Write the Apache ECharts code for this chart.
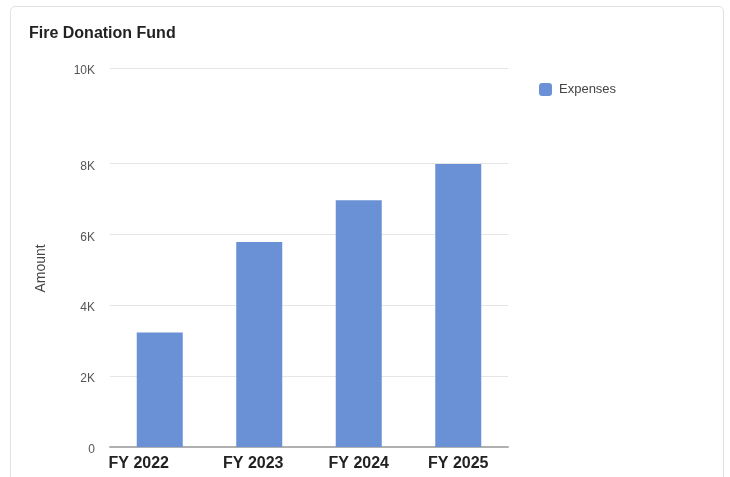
<!DOCTYPE html>
<html>
<head>
<meta charset="utf-8">
<title>Fire Donation Fund</title>
<script src="https://cdn.jsdelivr.net/npm/echarts@6/dist/echarts.min.js"></script>
<style>
  html, body { margin: 0; padding: 0; background: #ffffff; overflow: hidden; }
  #card {
    position: absolute; left: 10px; top: 6px; width: 714px; height: 520px;
    border: 1px solid #e2e2e2; border-radius: 5px; box-sizing: border-box;
  }
  #chart { position: absolute; left: 0; top: 0; width: 730px; height: 477px; }
</style>
</head>
<body>
<div id="card"></div>
<div id="chart"></div>
<script>
// Fiscal years and yearly expenses of the fund
const categories = ['FY 2022', 'FY 2023', 'FY 2024', 'FY 2025'];
const expenses = [3230, 5780, 6960, 7980];
const seriesName = 'Expenses';

// Value-axis ticks and the text printed beside each one
const yTickValues = [0, 2000, 4000, 6000, 8000, 10690];
const yTickLabels = ['0', '2K', '4K', '6K', '8K', '10K'];

const FONT = 'Arial, "Liberation Sans", Helvetica, sans-serif';
const BAR_COLOR = '#6a91d6';

// small horizontal nudges (px, to the left) for individual category labels
const labelNudge = [21, 6, 0, 0];

const chart = echarts.init(document.getElementById('chart'), null, { renderer: 'canvas' });

chart.setOption({
  animation: false,
  textStyle: { fontFamily: FONT },
  title: {
    text: 'Fire Donation Fund',
    left: 24,
    top: 21,
    textStyle: { fontFamily: FONT, fontSize: 16, fontWeight: 'bold', color: '#222222' }
  },
  legend: {
    left: 534,
    top: 78,
    itemWidth: 13,
    itemHeight: 13,
    icon: 'roundRect',
    itemStyle: { borderRadius: 2 },
    textStyle: { fontFamily: FONT, fontSize: 13, color: '#444444', padding: [0, 0, 0, 2] },
    data: [seriesName]
  },
  grid: {
    left: 110,
    top: 68,
    width: 398,
    height: 379
  },
  xAxis: {
    type: 'category',
    data: categories.map((c, i) => ({
      value: c,
      textStyle: { padding: [0, labelNudge[i] * 2, 0, 0] }
    })),
    axisLine: { show: true, lineStyle: { color: '#b0b0b0', width: 2 } },
    axisTick: { show: false },
    axisLabel: {
      interval: 0,
      margin: 9,
      fontFamily: FONT,
      fontSize: 16,
      fontWeight: 'bold',
      color: '#222222'
    },
    splitLine: { show: false }
  },
  yAxis: {
    type: 'value',
    min: 0,
    max: yTickValues[yTickValues.length - 1],
    name: 'Amount',
    nameLocation: 'middle',
    nameGap: 62,
    nameTextStyle: { fontFamily: FONT, fontSize: 14, color: '#444444', padding: [0, 22, 0, 0] },
    axisLine: { show: false },
    axisTick: { show: false, customValues: yTickValues },
    axisLabel: {
      customValues: yTickValues,
      margin: 15,
      fontFamily: FONT,
      fontSize: 12,
      color: '#555555',
      formatter: (v) => {
        const i = yTickValues.indexOf(v);
        return i >= 0 ? '{t|' + yTickLabels[i] + '}' : '';
      },
      rich: {
        t: { fontFamily: FONT, fontSize: 12, color: '#555555', padding: [6, 0, 0, 0] }
      }
    },
    splitLine: { show: true, lineStyle: { color: '#e5e5e5', width: 1 } }
  },
  series: [{
    name: seriesName,
    type: 'bar',
    data: expenses,
    barWidth: 46,
    itemStyle: { color: BAR_COLOR }
  }]
});
</script>
</body>
</html>
